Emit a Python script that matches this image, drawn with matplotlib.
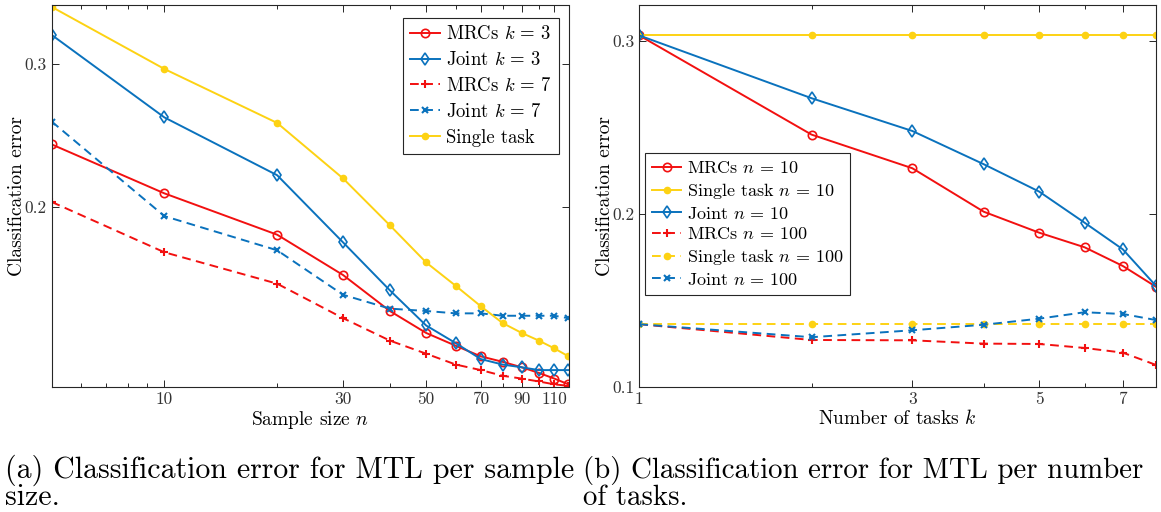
import numpy as np
import matplotlib
matplotlib.use("Agg")
import matplotlib.pyplot as plt

plt.rcParams['font.family'] = ['cmr10', 'DejaVu Serif']
plt.rcParams['mathtext.fontset'] = 'cm'
plt.rcParams['axes.formatter.use_mathtext'] = True

# (a) error vs sample size n
n_vals = [5, 10, 20, 30, 40, 50, 60, 70, 80, 90, 100, 110, 120]
mrc_k3 = [0.239, 0.208, 0.185, 0.165, 0.149, 0.140, 0.135, 0.131, 0.129, 0.127, 0.125, 0.123, 0.121]
joint_k3 = [0.326, 0.258, 0.219, 0.181, 0.158, 0.143, 0.136, 0.130, 0.128, 0.127, 0.126, 0.126, 0.126]
mrc_k7 = [0.203, 0.176, 0.161, 0.146, 0.137, 0.132, 0.128, 0.126, 0.124, 0.123, 0.122, 0.121, 0.1205]
joint_k7 = [0.255, 0.195, 0.177, 0.156, 0.150, 0.149, 0.148, 0.148, 0.147, 0.147, 0.147, 0.147, 0.146]
single = [0.353, 0.296, 0.254, 0.217, 0.190, 0.171, 0.160, 0.151, 0.144, 0.140, 0.137, 0.134, 0.131]

# (b) error vs number of tasks k
k_vals = [1, 2, 3, 4, 5, 6, 7, 8]
mrc_n10 = [0.303, 0.2458, 0.2264, 0.2013, 0.1892, 0.1808, 0.170, 0.158]
single_n10 = [0.303, 0.303, 0.303, 0.303, 0.303, 0.303, 0.303, 0.303]
joint_n10 = [0.303, 0.2668, 0.2479, 0.2287, 0.2129, 0.195, 0.1796, 0.1585]
mrc_n100 = [0.1364, 0.1273, 0.1271, 0.1252, 0.125, 0.1227, 0.120, 0.1129]
single_n100 = [0.1364, 0.1364, 0.1364, 0.1364, 0.1364, 0.1364, 0.1364, 0.1364]
joint_n100 = [0.1364, 0.1289, 0.1329, 0.1361, 0.1396, 0.1433, 0.1423, 0.1388]

RED = '#f21010'
BLUE = '#0a72bd'
YEL = '#fdd213'
AX = '#262626'
dash = (0, (4.5, 2.8))
lw = 1.4

W, H = 1161, 512
fig = plt.figure(figsize=(W / 100, H / 100), dpi=100)


def style(ax):
    for s in ax.spines.values():
        s.set_color(AX)
        s.set_linewidth(0.8)
    ax.tick_params(which='both', direction='in', top=True, right=True,
                   colors=AX, labelcolor='#333333', labelsize=12.5, width=0.7)
    ax.tick_params(which='major', length=5)
    ax.tick_params(which='minor', length=3)


# ---- left panel
ax1 = fig.add_axes([51.7 / W, 1 - 387.3 / H, 516.8 / W, 382 / H])
ax1.plot(n_vals, mrc_k3, '-', color=RED, lw=lw, marker='o', mfc='none', ms=6, mew=1.2, label=r'MRCs $k\,=\,3$')
ax1.plot(n_vals, joint_k3, '-', color=BLUE, lw=lw, marker='d', mfc='none', ms=6, mew=1.2, label=r'Joint $k\,=\,3$')
ax1.plot(n_vals, mrc_k7, ls=dash, color=RED, lw=lw, marker='+', ms=6, mew=1.5, label=r'MRCs $k\,=\,7$')
ax1.plot(n_vals, joint_k7, ls=dash, color=BLUE, lw=lw, marker='x', ms=4, mew=1.5, label=r'Joint $k\,=\,7$')
ax1.plot(n_vals, single, '-', color=YEL, lw=lw, marker='o', ms=4.5, label='Single task')
ax1.set_xscale('log')
ax1.set_yscale('log')
ax1.set_xlim(5, 120)
ax1.set_ylim(0.12, 0.3546)
ax1.set_xticks([10, 30, 50, 70, 90, 110], ['10', '30', '50', '70', '90', '110'])
ax1.set_xticks([6, 7, 8, 9, 20, 40, 60, 80, 100], minor=True)
ax1.set_xticklabels([], minor=True)
ax1.set_yticks([0.2, 0.3], ['0.2', '0.3'])
ax1.yaxis.set_minor_locator(matplotlib.ticker.NullLocator())
ax1.set_xlabel(r'Sample size $n$', fontsize=14, labelpad=1)
ax1.set_ylabel('Classification error', fontsize=14, labelpad=-1)
style(ax1)
leg1 = ax1.legend(loc='upper right', bbox_to_anchor=(1 - 9.5 / 516.8, 1 - 12.5 / 382),
                  borderaxespad=0, fancybox=False, edgecolor=AX, fontsize=13.5,
                  handlelength=1.6, handletextpad=0.3, labelspacing=0.42,
                  borderpad=0.4, framealpha=1)
leg1.get_frame().set_linewidth(0.8)

# ---- right panel
ax2 = fig.add_axes([639.3 / W, 1 - 387.3 / H, 516.7 / W, 382 / H])
ax2.plot(k_vals, mrc_n10, '-', color=RED, lw=lw, marker='o', mfc='none', ms=6, mew=1.2, label=r'MRCs $n\,=\,10$')
ax2.plot(k_vals, single_n10, '-', color=YEL, lw=lw, marker='o', ms=4.5, label=r'Single task $n\,=\,10$')
ax2.plot(k_vals, joint_n10, '-', color=BLUE, lw=lw, marker='d', mfc='none', ms=6, mew=1.2, label=r'Joint $n\,=\,10$')
ax2.plot(k_vals, mrc_n100, ls=dash, color=RED, lw=lw, marker='+', ms=6, mew=1.5, label=r'MRCs $n\,=\,100$')
ax2.plot(k_vals, single_n100, ls=dash, color=YEL, lw=lw, marker='o', ms=4.5, label=r'Single task $n\,=\,100$')
ax2.plot(k_vals, joint_n100, ls=dash, color=BLUE, lw=lw, marker='x', ms=4, mew=1.5, label=r'Joint $n\,=\,100$')
ax2.set_xscale('log')
ax2.set_xlim(1, 8)
ax2.set_ylim(0.1, 0.3204)
ax2.set_xticks([1, 3, 5, 7], ['1', '3', '5', '7'])
ax2.set_xticks([2, 4, 6], minor=True)
ax2.set_xticklabels([], minor=True)
ax2.set_yticks([0.1, 0.2, 0.3], ['0.1', '0.2', '0.3'])
ax2.set_xlabel(r'Number of tasks $k$', fontsize=14, labelpad=1)
ax2.set_ylabel('Classification error', fontsize=14, labelpad=-1)
style(ax2)
leg2 = ax2.legend(loc='upper left', bbox_to_anchor=(5.7 / 516.7, 1 - 147.7 / 382),
                  borderaxespad=0, fancybox=False, edgecolor=AX, fontsize=13,
                  handlelength=1.6, handletextpad=0.3, labelspacing=0.26,
                  borderpad=0.4, framealpha=1)
leg2.get_frame().set_linewidth(0.8)

# ---- captions
cap = dict(va='baseline', ha='left', color='black')
fig.text(5 / W, 1 - 478 / H, '(a) Classification error for MTL per sample', fontsize=21.5, **cap)
fig.text(5 / W, 1 - 505 / H, 'size.', fontsize=21.5, **cap)
fig.text(583 / W, 1 - 478 / H, '(b) Classification error for MTL per number', fontsize=20.8, **cap)
fig.text(583 / W, 1 - 505 / H, 'of tasks.', fontsize=20.8, **cap)

fig.savefig('out.png', dpi=100)
